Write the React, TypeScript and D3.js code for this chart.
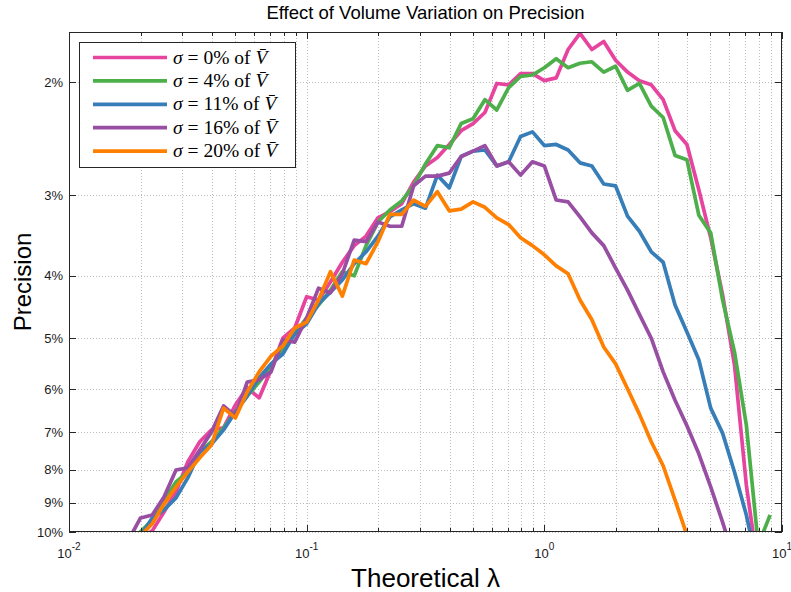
import React from 'react';
import * as d3 from 'd3';

// theoretical lambda values (x), shared by all curves
const lambdas = [
  0.0178, 0.02, 0.0224, 0.0251, 0.0282, 0.0316, 0.0355, 0.0398, 0.0447, 0.0501,
  0.0562, 0.0631, 0.0708, 0.0794, 0.0891, 0.1, 0.1122, 0.1259, 0.1413, 0.1585,
  0.1778, 0.1995, 0.2239, 0.2512, 0.2818, 0.3162, 0.3548, 0.3981, 0.4467, 0.5012,
  0.5623, 0.631, 0.7079, 0.7943, 0.8913, 1.0, 1.122, 1.259, 1.413, 1.585,
  1.778, 1.995, 2.239, 2.512, 2.818, 3.162, 3.548, 3.981, 4.467, 5.012,
  5.623, 6.31, 7.079, 7.943, 8.913,
];

// precision (%) per sigma
const sigma0 = [
  10.66, 10.22, 9.96, 9.31, 8.66, 7.78, 7.24, 6.94, 6.89, 6.35,
  5.97, 6.19, 5.6, 5.0, 4.82, 4.31, 4.36, 4.09, 3.81, 3.59,
  3.47, 3.25, 3.18, 3.09, 2.86, 2.7, 2.62, 2.5, 2.38, 2.32,
  2.23, 2.01, 2.02, 1.94, 1.94, 1.99, 1.97, 1.78, 1.68, 1.78,
  1.73, 1.85, 1.93, 1.99, 2.02, 2.13, 2.38, 2.5, 2.94, 3.49,
  4.28, 5.5, 8.45, 11.46,
];
const sigma4 = [
  10.58, 9.99, 9.58, 8.92, 8.36, 8.07, 7.51, 7.24, 6.89, 6.51,
  6.15, 5.85, 5.52, 5.18, 4.92, 4.65, 4.44, 4.21, 3.94, 4.0,
  3.59, 3.3, 3.16, 3.06, 2.9, 2.68, 2.51, 2.53, 2.32, 2.28,
  2.13, 2.21, 2.04, 1.96, 1.95, 1.9, 1.84, 1.9, 1.87, 1.86,
  1.93, 1.89, 2.06, 2.01, 2.18, 2.27, 2.6, 2.64, 3.22, 3.43,
  4.36, 5.25, 6.82, 10.47, 9.41,
];
const sigma11 = [
  10.86, 10.14, 9.51, 9.24, 8.85, 8.24, 7.51, 7.3, 6.94, 6.51,
  6.15, 5.76, 5.48, 5.29, 4.92, 4.75, 4.42, 4.24, 4.06, 3.83,
  3.67, 3.47, 3.24, 3.16, 3.09, 3.14, 2.79, 2.92, 2.61, 2.56,
  2.55, 2.7, 2.66, 2.43, 2.39, 2.51, 2.5, 2.55, 2.67, 2.7,
  2.88, 2.9, 3.23, 3.41, 3.67, 3.81, 4.44, 4.89, 5.4, 6.42,
  7.02, 8.07, 9.41, 11.46,
];
const sigma16 = [
  10.29, 9.51, 9.41, 8.82, 8.01, 7.95, 7.46, 6.99, 6.37, 6.6,
  5.85, 5.8, 5.64, 5.03, 5.07, 4.65, 4.18, 4.25, 3.97, 3.52,
  3.54, 3.3, 3.35, 3.35, 2.9, 2.8, 2.8, 2.77, 2.61, 2.56,
  2.51, 2.7, 2.66, 2.79, 2.66, 2.7, 3.05, 3.07, 3.24, 3.43,
  3.59, 3.89, 4.21, 4.59, 5.0, 5.64, 6.24, 6.84, 7.56, 8.51,
  9.65, 11.05,
];
const sigma20 = [
  11.05, 10.14, 9.71, 9.05, 8.51, 8.07, 7.67, 7.32, 6.42, 6.65,
  6.06, 5.64, 5.33, 5.14, 4.82, 4.72, 4.36, 3.94, 4.3, 3.78,
  3.83, 3.54, 3.21, 3.21, 3.05, 3.12, 2.96, 3.17, 3.15, 3.07,
  3.13, 3.25, 3.33, 3.49, 3.59, 3.71, 3.86, 3.97, 4.36, 4.68,
  5.16, 5.48, 5.99, 6.56, 7.24, 7.89, 8.92, 10.11, 11.46,
];

const seriesValues = [sigma0, sigma4, sigma11, sigma16, sigma20];
const seriesLabels = ['0%', '4%', '11%', '16%', '20%'];
const seriesColors = ['#e6449f', '#4daf4a', '#377eb8', '#984ea3', '#ff7f00'];

const yTickValues = [2, 3, 4, 5, 6, 7, 8, 9, 10];
const xMajorTicks = [0.01, 0.1, 1, 10];
const xExponents = ['-2', '-1', '0', '1'];

const W = 791;
const H = 592;
const plot = { left: 69, right: 782, top: 32, bottom: 532 };
const sans = '"Liberation Sans", Arial, Helvetica, sans-serif';
const serif = '"Liberation Serif", "Times New Roman", serif';

export default function App() {
  const x = d3.scaleLog().domain([0.01, 10]).range([plot.left, plot.right]);
  const y = d3.scaleLog().domain([1.672, 10]).range([plot.top, plot.bottom]);

  const line = d3
    .line<[number, number]>()
    .x((d) => x(d[0]))
    .y((d) => y(d[1]));

  // all 1..9 multiples per decade, majors are the powers of ten
  const allXTicks = x.ticks();
  const isMajor = (v: number) => Math.abs(Math.log10(v) - Math.round(Math.log10(v))) < 1e-9;

  const axisColor = '#262626';
  const gridColor = '#bdbdbd';

  const legend = { x: 79.5, y: 42.5, w: 216, h: 125 };

  return (
    <svg width={W} height={H} style={{ position: 'absolute', left: 0, top: 0, background: '#fff' }}>
      <defs>
        <clipPath id="plotClip">
          <rect x={plot.left} y={plot.top} width={plot.right - plot.left} height={plot.bottom - plot.top} />
        </clipPath>
      </defs>
      <rect x={0} y={0} width={W} height={H} fill="#fff" />

      {/* grid */}
      <g stroke={gridColor} strokeWidth={1} strokeDasharray="1,2">
        {allXTicks.map((t, i) => (
          <line key={'gx' + i} x1={Math.round(x(t)) + 0.5} x2={Math.round(x(t)) + 0.5} y1={plot.top} y2={plot.bottom} />
        ))}
        {yTickValues.map((t, i) => (
          <line key={'gy' + i} x1={plot.left} x2={plot.right} y1={Math.round(y(t)) + 0.5} y2={Math.round(y(t)) + 0.5} />
        ))}
      </g>

      {/* curves */}
      <g clipPath="url(#plotClip)" fill="none" strokeWidth={3.7} strokeLinejoin="round">
        {seriesValues.map((vals, si) => {
          const pts: [number, number][] = vals.map((v, i) => [lambdas[i], v]);
          return <path key={si} d={line(pts) || ''} stroke={seriesColors[si]} />;
        })}
      </g>

      {/* box and ticks */}
      <rect
        x={plot.left + 0.5}
        y={plot.top + 0.5}
        width={plot.right - plot.left - 1}
        height={plot.bottom - plot.top - 1}
        fill="none"
        stroke={axisColor}
        strokeWidth={1}
      />
      <g stroke={axisColor} strokeWidth={1}>
        {allXTicks.map((t, i) => {
          const px = Math.round(x(t)) + 0.5;
          const len = isMajor(t) ? 7 : 4;
          return (
            <g key={'tx' + i}>
              <line x1={px} x2={px} y1={plot.bottom} y2={plot.bottom - len} />
              <line x1={px} x2={px} y1={plot.top} y2={plot.top + len} />
            </g>
          );
        })}
        {yTickValues.map((t, i) => {
          const py = Math.round(y(t)) + 0.5;
          return (
            <g key={'ty' + i}>
              <line x1={plot.left} x2={plot.left + 7} y1={py} y2={py} />
              <line x1={plot.right} x2={plot.right - 7} y1={py} y2={py} />
            </g>
          );
        })}
      </g>

      {/* y tick labels */}
      <g fontFamily={sans} fontSize={13} fill="#1a1a1a" textAnchor="end">
        {yTickValues.map((t, i) => (
          <text key={'ly' + i} x={plot.left - 6} y={y(t) + 4.5}>
            {t}%
          </text>
        ))}
      </g>

      {/* x tick labels */}
      <g fontFamily={sans} fill="#1a1a1a">
        {xMajorTicks.map((t, i) => (
          <text key={'lx' + i} x={x(t)} y={558} fontSize={13} textAnchor="middle">
            10
            <tspan fontSize={10} dy={-8}>
              {xExponents[i]}
            </tspan>
          </text>
        ))}
      </g>

      {/* title and axis labels */}
      <text x={(plot.left + plot.right) / 2} y={19} fontFamily={sans} fontSize={18.5} textAnchor="middle" fill="#000">
        Effect of Volume Variation on Precision
      </text>
      <text x={(plot.left + plot.right) / 2} y={587} fontFamily={sans} fontSize={26} textAnchor="middle" fill="#000">
        Theoretical λ
      </text>
      <text
        transform={`translate(31, ${(plot.top + plot.bottom) / 2}) rotate(-90)`}
        fontFamily={sans}
        fontSize={24}
        textAnchor="middle"
        fill="#000"
      >
        Precision
      </text>

      {/* legend */}
      <g>
        <rect x={legend.x} y={legend.y} width={legend.w} height={legend.h} fill="#fff" stroke={axisColor} strokeWidth={1} />
        {seriesLabels.map((lab, i) => {
          const cy = 57.5 + i * 23.4;
          return (
            <g key={'lg' + i}>
              <line x1={93} x2={167} y1={cy} y2={cy} stroke={seriesColors[i]} strokeWidth={3.7} />
              <text x={173} y={cy + 6} fontFamily={serif} fontSize={19.5} fill="#000">
                <tspan fontStyle="italic">σ</tspan>
                <tspan> = {lab} of </tspan>
                <tspan fontStyle="italic">V&#772;</tspan>
              </text>
            </g>
          );
        })}
      </g>
    </svg>
  );
}
